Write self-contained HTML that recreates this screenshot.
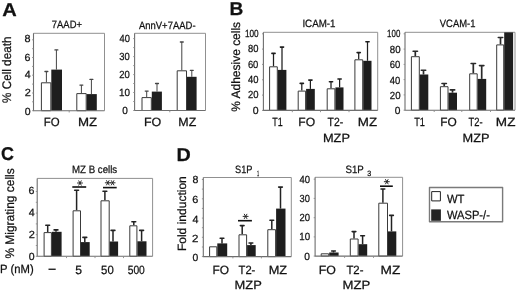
<!DOCTYPE html>
<html><head><meta charset="utf-8"><style>
html,body{margin:0;padding:0;background:#fff;width:520px;height:292px;overflow:hidden}
svg{display:block;will-change:transform}
</style></head><body>
<svg width="520" height="292" viewBox="0 0 520 292" font-family='"Liberation Sans", sans-serif' fill="#111" stroke-linejoin="round" text-rendering="geometricPrecision">
<path d="M33.5 33.3H104.5V110.7" fill="none" stroke="#909090" stroke-width="1"/>
<path d="M134.6 33.3H205.5V110.5" fill="none" stroke="#909090" stroke-width="1"/>
<path d="M263.4 32.3H377.7V110.4" fill="none" stroke="#909090" stroke-width="1"/>
<path d="M405.0 32.3H515.0V110.2" fill="none" stroke="#909090" stroke-width="1"/>
<path d="M37.2 178.4H152.6V256.3" fill="none" stroke="#909090" stroke-width="1"/>
<path d="M203.3 177.5H291.3V256.6" fill="none" stroke="#909090" stroke-width="1"/>
<path d="M315.1 177.3H402.6V256.1" fill="none" stroke="#909090" stroke-width="1"/>
<path d="M46.40 82.3V71.5" stroke="#444" stroke-width="1.0" fill="none"/>
<rect x="44.30" y="70.85" width="4.20" height="1.3" rx="0.65" fill="#444"/>
<rect x="41.4" y="82.8" width="9.4" height="27.9" fill="#fff" stroke="#3a3a3a" stroke-width="1"/>
<path d="M56.40 69.6V49.9" stroke="#444" stroke-width="1.0" fill="none"/>
<rect x="54.30" y="49.25" width="4.20" height="1.3" rx="0.65" fill="#444"/>
<rect x="51.3" y="69.6" width="10.7" height="41.1" fill="#1e1e1e"/>
<path d="M81.40 93.1V85.1" stroke="#444" stroke-width="1.0" fill="none"/>
<rect x="79.30" y="84.45" width="4.20" height="1.3" rx="0.65" fill="#444"/>
<rect x="76.8" y="93.6" width="9.4" height="17.1" fill="#fff" stroke="#3a3a3a" stroke-width="1"/>
<path d="M91.40 94.1V79.4" stroke="#444" stroke-width="1.0" fill="none"/>
<rect x="89.30" y="78.75" width="4.20" height="1.3" rx="0.65" fill="#444"/>
<rect x="86.7" y="94.1" width="10.1" height="16.6" fill="#1e1e1e"/>
<path d="M146.70 97.1V91.1" stroke="#444" stroke-width="1.0" fill="none"/>
<rect x="144.60" y="90.45" width="4.20" height="1.3" rx="0.65" fill="#444"/>
<rect x="142.0" y="97.6" width="9.3" height="12.9" fill="#fff" stroke="#3a3a3a" stroke-width="1"/>
<path d="M157.00 91.6V83.5" stroke="#444" stroke-width="1.0" fill="none"/>
<rect x="154.90" y="82.85" width="4.20" height="1.3" rx="0.65" fill="#444"/>
<rect x="151.8" y="91.6" width="10.1" height="18.9" fill="#1e1e1e"/>
<path d="M181.80 70.3V42.0" stroke="#444" stroke-width="1.0" fill="none"/>
<rect x="179.70" y="41.35" width="4.20" height="1.3" rx="0.65" fill="#444"/>
<rect x="177.2" y="70.8" width="9.3" height="39.7" fill="#fff" stroke="#3a3a3a" stroke-width="1"/>
<path d="M191.80 76.8V70.3" stroke="#444" stroke-width="1.0" fill="none"/>
<rect x="189.70" y="69.65" width="4.20" height="1.3" rx="0.65" fill="#444"/>
<rect x="187.0" y="76.8" width="9.6" height="33.7" fill="#1e1e1e"/>
<path d="M273.50 66.3V53.4" stroke="#1e1e1e" stroke-width="1.25" fill="none"/>
<rect x="271.10" y="52.60" width="4.80" height="1.6" rx="0.80" fill="#1e1e1e"/>
<rect x="269.6" y="66.8" width="7.7" height="43.6" fill="#fff" stroke="#3a3a3a" stroke-width="1"/>
<path d="M282.00 69.9V47.1" stroke="#1e1e1e" stroke-width="1.25" fill="none"/>
<rect x="279.60" y="46.30" width="4.80" height="1.6" rx="0.80" fill="#1e1e1e"/>
<rect x="277.8" y="69.9" width="8.6" height="40.5" fill="#1e1e1e"/>
<path d="M301.80 90.6V83.4" stroke="#1e1e1e" stroke-width="1.25" fill="none"/>
<rect x="299.40" y="82.60" width="4.80" height="1.6" rx="0.80" fill="#1e1e1e"/>
<rect x="298.2" y="91.1" width="7.4" height="19.3" fill="#fff" stroke="#3a3a3a" stroke-width="1"/>
<path d="M310.40 88.9V80.1" stroke="#1e1e1e" stroke-width="1.25" fill="none"/>
<rect x="308.00" y="79.30" width="4.80" height="1.6" rx="0.80" fill="#1e1e1e"/>
<rect x="306.1" y="88.9" width="8.7" height="21.5" fill="#1e1e1e"/>
<path d="M331.00 88.3V81.8" stroke="#1e1e1e" stroke-width="1.25" fill="none"/>
<rect x="328.60" y="81.00" width="4.80" height="1.6" rx="0.80" fill="#1e1e1e"/>
<rect x="327.2" y="88.8" width="7.7" height="21.6" fill="#fff" stroke="#3a3a3a" stroke-width="1"/>
<path d="M339.60 87.4V79.0" stroke="#1e1e1e" stroke-width="1.25" fill="none"/>
<rect x="337.20" y="78.20" width="4.80" height="1.6" rx="0.80" fill="#1e1e1e"/>
<rect x="335.4" y="87.4" width="8.1" height="23.0" fill="#1e1e1e"/>
<path d="M358.70 59.3V52.6" stroke="#1e1e1e" stroke-width="1.25" fill="none"/>
<rect x="356.30" y="51.80" width="4.80" height="1.6" rx="0.80" fill="#1e1e1e"/>
<rect x="354.9" y="59.8" width="7.8" height="50.6" fill="#fff" stroke="#3a3a3a" stroke-width="1"/>
<path d="M367.50 60.8V41.7" stroke="#1e1e1e" stroke-width="1.25" fill="none"/>
<rect x="365.10" y="40.90" width="4.80" height="1.6" rx="0.80" fill="#1e1e1e"/>
<rect x="363.2" y="60.8" width="8.3" height="49.6" fill="#1e1e1e"/>
<path d="M415.30 56.2V51.2" stroke="#2a2a2a" stroke-width="1.7" fill="none"/>
<rect x="412.30" y="50.40" width="6.00" height="1.6" rx="0.80" fill="#2a2a2a"/>
<rect x="411.4" y="56.7" width="7.9" height="53.5" fill="#fff" stroke="#3a3a3a" stroke-width="1"/>
<path d="M423.50 74.5V70.3" stroke="#2a2a2a" stroke-width="1.7" fill="none"/>
<rect x="420.50" y="69.50" width="6.00" height="1.6" rx="0.80" fill="#2a2a2a"/>
<rect x="419.8" y="74.5" width="8.5" height="35.7" fill="#1e1e1e"/>
<path d="M444.20 86.2V83.5" stroke="#2a2a2a" stroke-width="1.7" fill="none"/>
<rect x="441.20" y="82.70" width="6.00" height="1.6" rx="0.80" fill="#2a2a2a"/>
<rect x="440.4" y="86.7" width="7.6" height="23.5" fill="#fff" stroke="#3a3a3a" stroke-width="1"/>
<path d="M452.50 92.7V89.9" stroke="#2a2a2a" stroke-width="1.7" fill="none"/>
<rect x="449.50" y="89.10" width="6.00" height="1.6" rx="0.80" fill="#2a2a2a"/>
<rect x="448.5" y="92.7" width="8.5" height="17.5" fill="#1e1e1e"/>
<path d="M473.30 73.3V63.5" stroke="#2a2a2a" stroke-width="1.7" fill="none"/>
<rect x="470.30" y="62.70" width="6.00" height="1.6" rx="0.80" fill="#2a2a2a"/>
<rect x="469.7" y="73.8" width="7.5" height="36.4" fill="#fff" stroke="#3a3a3a" stroke-width="1"/>
<path d="M481.70 78.9V65.6" stroke="#2a2a2a" stroke-width="1.7" fill="none"/>
<rect x="478.70" y="64.80" width="6.00" height="1.6" rx="0.80" fill="#2a2a2a"/>
<rect x="477.7" y="78.9" width="8.5" height="31.3" fill="#1e1e1e"/>
<path d="M500.50 44.4V37.5" stroke="#2a2a2a" stroke-width="1.7" fill="none"/>
<rect x="497.50" y="36.70" width="6.00" height="1.6" rx="0.80" fill="#2a2a2a"/>
<rect x="496.7" y="44.9" width="7.0" height="65.3" fill="#fff" stroke="#3a3a3a" stroke-width="1"/>
<rect x="504.2" y="32.4" width="8.9" height="77.8" fill="#1e1e1e"/>
<path d="M47.70 232.1V225.3" stroke="#222" stroke-width="1.5" fill="none"/>
<rect x="45.00" y="224.50" width="5.40" height="1.6" rx="0.80" fill="#222"/>
<rect x="44.1" y="232.6" width="7.3" height="23.7" fill="#fff" stroke="#3a3a3a" stroke-width="1"/>
<path d="M56.00 231.8V229.9" stroke="#222" stroke-width="1.5" fill="none"/>
<rect x="53.30" y="229.10" width="5.40" height="1.6" rx="0.80" fill="#222"/>
<rect x="51.9" y="231.8" width="9.7" height="24.5" fill="#1e1e1e"/>
<path d="M76.60 210.3V190.3" stroke="#222" stroke-width="1.5" fill="none"/>
<rect x="73.90" y="189.50" width="5.40" height="1.6" rx="0.80" fill="#222"/>
<rect x="73.1" y="210.8" width="7.4" height="45.5" fill="#fff" stroke="#3a3a3a" stroke-width="1"/>
<path d="M84.80 242.1V237.4" stroke="#222" stroke-width="1.5" fill="none"/>
<rect x="82.10" y="236.60" width="5.40" height="1.6" rx="0.80" fill="#222"/>
<rect x="81.0" y="242.1" width="8.7" height="14.2" fill="#1e1e1e"/>
<path d="M104.90 200.3V191.2" stroke="#222" stroke-width="1.5" fill="none"/>
<rect x="102.20" y="190.40" width="5.40" height="1.6" rx="0.80" fill="#222"/>
<rect x="101.0" y="200.8" width="8.2" height="55.5" fill="#fff" stroke="#3a3a3a" stroke-width="1"/>
<path d="M113.00 241.5V230.4" stroke="#222" stroke-width="1.5" fill="none"/>
<rect x="110.30" y="229.60" width="5.40" height="1.6" rx="0.80" fill="#222"/>
<rect x="109.7" y="241.5" width="8.4" height="14.8" fill="#1e1e1e"/>
<path d="M133.80 225.3V221.8" stroke="#222" stroke-width="1.5" fill="none"/>
<rect x="131.10" y="221.00" width="5.40" height="1.6" rx="0.80" fill="#222"/>
<rect x="129.8" y="225.8" width="7.1" height="30.5" fill="#fff" stroke="#3a3a3a" stroke-width="1"/>
<path d="M141.60 241.3V230.4" stroke="#222" stroke-width="1.5" fill="none"/>
<rect x="138.90" y="229.60" width="5.40" height="1.6" rx="0.80" fill="#222"/>
<rect x="137.4" y="241.3" width="9.1" height="15.0" fill="#1e1e1e"/>
<rect x="209.6" y="246.8" width="7.2" height="9.8" fill="#fff" stroke="#3a3a3a" stroke-width="1"/>
<path d="M222.00 243.4V238.3" stroke="#222" stroke-width="1.5" fill="none"/>
<rect x="219.35" y="237.50" width="5.30" height="1.6" rx="0.80" fill="#222"/>
<rect x="217.3" y="243.4" width="9.9" height="13.2" fill="#1e1e1e"/>
<path d="M242.20 234.3V225.6" stroke="#222" stroke-width="1.5" fill="none"/>
<rect x="239.55" y="224.80" width="5.30" height="1.6" rx="0.80" fill="#222"/>
<rect x="239.0" y="234.8" width="7.6" height="21.8" fill="#fff" stroke="#3a3a3a" stroke-width="1"/>
<path d="M250.90 245.1V243.0" stroke="#222" stroke-width="1.5" fill="none"/>
<rect x="248.25" y="242.20" width="5.30" height="1.6" rx="0.80" fill="#222"/>
<rect x="247.1" y="245.1" width="8.6" height="11.5" fill="#1e1e1e"/>
<path d="M271.80 229.2V220.3" stroke="#222" stroke-width="1.5" fill="none"/>
<rect x="269.15" y="219.50" width="5.30" height="1.6" rx="0.80" fill="#222"/>
<rect x="267.8" y="229.7" width="7.8" height="26.9" fill="#fff" stroke="#3a3a3a" stroke-width="1"/>
<path d="M280.50 208.6V187.1" stroke="#222" stroke-width="1.5" fill="none"/>
<rect x="277.85" y="186.30" width="5.30" height="1.6" rx="0.80" fill="#222"/>
<rect x="276.1" y="208.6" width="9.4" height="48.0" fill="#1e1e1e"/>
<rect x="321.2" y="253.8" width="7.5" height="2.3" fill="#fff" stroke="#3a3a3a" stroke-width="1"/>
<path d="M333.50 252.5V251.0" stroke="#222" stroke-width="1.5" fill="none"/>
<rect x="330.85" y="250.20" width="5.30" height="1.6" rx="0.80" fill="#222"/>
<rect x="329.2" y="252.5" width="9.4" height="3.6" fill="#1e1e1e"/>
<path d="M354.00 238.5V231.6" stroke="#222" stroke-width="1.5" fill="none"/>
<rect x="351.35" y="230.80" width="5.30" height="1.6" rx="0.80" fill="#222"/>
<rect x="350.3" y="239.0" width="7.8" height="17.1" fill="#fff" stroke="#3a3a3a" stroke-width="1"/>
<path d="M362.60 244.2V235.8" stroke="#222" stroke-width="1.5" fill="none"/>
<rect x="359.95" y="235.00" width="5.30" height="1.6" rx="0.80" fill="#222"/>
<rect x="358.6" y="244.2" width="8.6" height="11.9" fill="#1e1e1e"/>
<path d="M382.90 202.7V189.0" stroke="#222" stroke-width="1.5" fill="none"/>
<rect x="380.25" y="188.20" width="5.30" height="1.6" rx="0.80" fill="#222"/>
<rect x="378.8" y="203.2" width="8.7" height="52.9" fill="#fff" stroke="#3a3a3a" stroke-width="1"/>
<path d="M391.50 231.4V215.4" stroke="#222" stroke-width="1.5" fill="none"/>
<rect x="388.85" y="214.60" width="5.30" height="1.6" rx="0.80" fill="#222"/>
<rect x="388.0" y="231.4" width="8.3" height="24.7" fill="#1e1e1e"/>
<path d="M33.5 33.3V110.7H104.5" fill="none" stroke="#6e6e6e" stroke-width="1.1"/>
<path d="M69.2 110.7v1.8" stroke="#8a8a8a" stroke-width="0.9"/>
<path d="M134.6 33.3V110.5H205.5" fill="none" stroke="#6e6e6e" stroke-width="1.1"/>
<path d="M169.8 110.5v1.8" stroke="#8a8a8a" stroke-width="0.9"/>
<path d="M263.4 32.3V110.4H377.7" fill="none" stroke="#6e6e6e" stroke-width="1.1"/>
<path d="M292.3 110.4v1.8" stroke="#8a8a8a" stroke-width="0.9"/>
<path d="M320.5 110.4v1.8" stroke="#8a8a8a" stroke-width="0.9"/>
<path d="M349.0 110.4v1.8" stroke="#8a8a8a" stroke-width="0.9"/>
<path d="M405.0 32.3V110.2H515.0" fill="none" stroke="#6e6e6e" stroke-width="1.1"/>
<path d="M434.2 110.2v1.8" stroke="#8a8a8a" stroke-width="0.9"/>
<path d="M461.8 110.2v1.8" stroke="#8a8a8a" stroke-width="0.9"/>
<path d="M490.5 110.2v1.8" stroke="#8a8a8a" stroke-width="0.9"/>
<path d="M37.2 178.4V256.3H152.6" fill="none" stroke="#6e6e6e" stroke-width="1.1"/>
<path d="M66.5 256.3v1.8" stroke="#8a8a8a" stroke-width="0.9"/>
<path d="M95.0 256.3v1.8" stroke="#8a8a8a" stroke-width="0.9"/>
<path d="M123.5 256.3v1.8" stroke="#8a8a8a" stroke-width="0.9"/>
<path d="M203.3 177.5V256.6H291.3" fill="none" stroke="#6e6e6e" stroke-width="1.1"/>
<path d="M232.9 256.6v1.8" stroke="#8a8a8a" stroke-width="0.9"/>
<path d="M261.4 256.6v1.8" stroke="#8a8a8a" stroke-width="0.9"/>
<path d="M315.1 177.3V256.1H402.6" fill="none" stroke="#6e6e6e" stroke-width="1.1"/>
<path d="M344.6 256.1v1.8" stroke="#8a8a8a" stroke-width="0.9"/>
<path d="M373.5 256.1v1.8" stroke="#8a8a8a" stroke-width="0.9"/>
<path d="M32.1 39.8H33.5" stroke="#8a8a8a" stroke-width="0.9"/>
<path d="M32.1 48.7H33.5" stroke="#8a8a8a" stroke-width="0.9"/>
<path d="M32.1 57.5H33.5" stroke="#8a8a8a" stroke-width="0.9"/>
<path d="M32.1 66.4H33.5" stroke="#8a8a8a" stroke-width="0.9"/>
<path d="M32.1 75.2H33.5" stroke="#8a8a8a" stroke-width="0.9"/>
<path d="M32.1 84.1H33.5" stroke="#8a8a8a" stroke-width="0.9"/>
<path d="M32.1 93.0H33.5" stroke="#8a8a8a" stroke-width="0.9"/>
<path d="M32.1 101.8H33.5" stroke="#8a8a8a" stroke-width="0.9"/>
<path d="M32.1 110.7H33.5" stroke="#8a8a8a" stroke-width="0.9"/>
<path d="M133.2 38.6H134.6" stroke="#8a8a8a" stroke-width="0.9"/>
<path d="M133.2 47.6H134.6" stroke="#8a8a8a" stroke-width="0.9"/>
<path d="M133.2 56.6H134.6" stroke="#8a8a8a" stroke-width="0.9"/>
<path d="M133.2 65.6H134.6" stroke="#8a8a8a" stroke-width="0.9"/>
<path d="M133.2 74.6H134.6" stroke="#8a8a8a" stroke-width="0.9"/>
<path d="M133.2 83.5H134.6" stroke="#8a8a8a" stroke-width="0.9"/>
<path d="M133.2 92.5H134.6" stroke="#8a8a8a" stroke-width="0.9"/>
<path d="M133.2 101.5H134.6" stroke="#8a8a8a" stroke-width="0.9"/>
<path d="M133.2 110.5H134.6" stroke="#8a8a8a" stroke-width="0.9"/>
<path d="M262.0 33.8H263.4" stroke="#8a8a8a" stroke-width="0.9"/>
<path d="M262.0 49.1H263.4" stroke="#8a8a8a" stroke-width="0.9"/>
<path d="M262.0 64.4H263.4" stroke="#8a8a8a" stroke-width="0.9"/>
<path d="M262.0 79.8H263.4" stroke="#8a8a8a" stroke-width="0.9"/>
<path d="M262.0 95.1H263.4" stroke="#8a8a8a" stroke-width="0.9"/>
<path d="M262.0 110.4H263.4" stroke="#8a8a8a" stroke-width="0.9"/>
<path d="M403.6 33.8H405.0" stroke="#8a8a8a" stroke-width="0.9"/>
<path d="M403.6 49.1H405.0" stroke="#8a8a8a" stroke-width="0.9"/>
<path d="M403.6 64.4H405.0" stroke="#8a8a8a" stroke-width="0.9"/>
<path d="M403.6 79.6H405.0" stroke="#8a8a8a" stroke-width="0.9"/>
<path d="M403.6 94.9H405.0" stroke="#8a8a8a" stroke-width="0.9"/>
<path d="M403.6 110.2H405.0" stroke="#8a8a8a" stroke-width="0.9"/>
<path d="M35.8 191.5H37.2" stroke="#8a8a8a" stroke-width="0.9"/>
<path d="M35.8 202.3H37.2" stroke="#8a8a8a" stroke-width="0.9"/>
<path d="M35.8 213.1H37.2" stroke="#8a8a8a" stroke-width="0.9"/>
<path d="M35.8 223.9H37.2" stroke="#8a8a8a" stroke-width="0.9"/>
<path d="M35.8 234.7H37.2" stroke="#8a8a8a" stroke-width="0.9"/>
<path d="M35.8 245.5H37.2" stroke="#8a8a8a" stroke-width="0.9"/>
<path d="M35.8 256.3H37.2" stroke="#8a8a8a" stroke-width="0.9"/>
<path d="M201.9 179.5H203.3" stroke="#8a8a8a" stroke-width="0.9"/>
<path d="M201.9 189.1H203.3" stroke="#8a8a8a" stroke-width="0.9"/>
<path d="M201.9 198.8H203.3" stroke="#8a8a8a" stroke-width="0.9"/>
<path d="M201.9 208.4H203.3" stroke="#8a8a8a" stroke-width="0.9"/>
<path d="M201.9 218.1H203.3" stroke="#8a8a8a" stroke-width="0.9"/>
<path d="M201.9 227.7H203.3" stroke="#8a8a8a" stroke-width="0.9"/>
<path d="M201.9 237.3H203.3" stroke="#8a8a8a" stroke-width="0.9"/>
<path d="M201.9 247.0H203.3" stroke="#8a8a8a" stroke-width="0.9"/>
<path d="M201.9 256.6H203.3" stroke="#8a8a8a" stroke-width="0.9"/>
<path d="M313.7 179.2H315.1" stroke="#8a8a8a" stroke-width="0.9"/>
<path d="M313.7 198.4H315.1" stroke="#8a8a8a" stroke-width="0.9"/>
<path d="M313.7 217.7H315.1" stroke="#8a8a8a" stroke-width="0.9"/>
<path d="M313.7 236.9H315.1" stroke="#8a8a8a" stroke-width="0.9"/>
<path d="M313.7 256.1H315.1" stroke="#8a8a8a" stroke-width="0.9"/>
<rect x="72.3" y="186.2" width="13.9" height="1.6" fill="#111"/>
<path d="M77.10 183.00L82.90 183.00M78.55 180.49L81.45 185.51M81.45 180.49L78.55 185.51" stroke="#222" stroke-width="0.95" fill="none"/>
<rect x="103.0" y="186.8" width="13.7" height="1.6" fill="#111"/>
<path d="M104.90 182.80L110.70 182.80M106.35 180.29L109.25 185.31M109.25 180.29L106.35 185.31" stroke="#222" stroke-width="0.95" fill="none"/>
<path d="M109.70 182.80L115.50 182.80M111.15 180.29L114.05 185.31M114.05 180.29L111.15 185.31" stroke="#222" stroke-width="0.95" fill="none"/>
<rect x="238.0" y="219.9" width="13.9" height="1.6" fill="#111"/>
<path d="M242.70 216.40L248.50 216.40M244.15 213.89L247.05 218.91M247.05 213.89L244.15 218.91" stroke="#222" stroke-width="0.95" fill="none"/>
<rect x="380.0" y="185.4" width="12.8" height="1.6" fill="#111"/>
<path d="M383.90 181.70L389.70 181.70M385.35 179.19L388.25 184.21M388.25 179.19L385.35 184.21" stroke="#222" stroke-width="0.95" fill="none"/>
<rect x="48.5" y="268.6" width="7.2" height="1.3" fill="#111"/>
<rect x="429.5" y="187.5" width="73.1" height="34.3" fill="#fff" stroke="#7a7a7a" stroke-width="1.4"/>
<rect x="431.7" y="191.6" width="8.7" height="9.3" fill="#fff" stroke="#222" stroke-width="1"/>
<rect x="431.2" y="209.4" width="9.7" height="11.4" fill="#222"/>
<g stroke="#111" stroke-width="0.25">
<text x="2.25" y="16.00" font-size="18.60" font-weight="bold" textLength="14.52" lengthAdjust="spacingAndGlyphs">A</text>
<text x="229.46" y="15.00" font-size="18.60" font-weight="bold" textLength="13.84" lengthAdjust="spacingAndGlyphs">B</text>
<text x="0.94" y="160.00" font-size="18.60" font-weight="bold" textLength="13.00" lengthAdjust="spacingAndGlyphs">C</text>
<text x="176.62" y="161.00" font-size="18.60" font-weight="bold" textLength="14.28" lengthAdjust="spacingAndGlyphs">D</text>
<text x="51.83" y="28.00" font-size="10.60" textLength="30.18" lengthAdjust="spacingAndGlyphs">7AAD+</text>
<text x="138.94" y="29.00" font-size="10.60" textLength="56.60" lengthAdjust="spacingAndGlyphs">AnnV+7AAD-</text>
<text x="302.40" y="27.00" font-size="10.60" textLength="33.11" lengthAdjust="spacingAndGlyphs">ICAM-1</text>
<text x="439.84" y="27.00" font-size="10.60" textLength="35.58" lengthAdjust="spacingAndGlyphs">VCAM-1</text>
<text x="72.04" y="173.00" font-size="10.60" textLength="45.19" lengthAdjust="spacingAndGlyphs">MZ B cells</text>
<text x="235.08" y="173.00" font-size="10.60" textLength="17.39" lengthAdjust="spacingAndGlyphs">S1P</text>
<text x="257.07" y="176.00" font-size="7.60" textLength="2.16" lengthAdjust="spacingAndGlyphs">1</text>
<text x="345.47" y="173.00" font-size="10.60" textLength="18.28" lengthAdjust="spacingAndGlyphs">S1P</text>
<text x="367.35" y="176.00" font-size="7.60" textLength="3.96" lengthAdjust="spacingAndGlyphs">3</text>
<text x="43.66" y="126.00" font-size="12.00" textLength="15.86" lengthAdjust="spacingAndGlyphs">FO</text>
<text x="77.92" y="126.00" font-size="12.00" textLength="19.16" lengthAdjust="spacingAndGlyphs">MZ</text>
<text x="143.97" y="126.00" font-size="12.00" textLength="17.33" lengthAdjust="spacingAndGlyphs">FO</text>
<text x="178.34" y="126.00" font-size="12.00" textLength="17.93" lengthAdjust="spacingAndGlyphs">MZ</text>
<text x="272.21" y="126.00" font-size="12.00" textLength="10.50" lengthAdjust="spacingAndGlyphs">T1</text>
<text x="298.39" y="126.00" font-size="12.00" textLength="16.83" lengthAdjust="spacingAndGlyphs">FO</text>
<text x="327.61" y="126.00" font-size="12.00" textLength="15.57" lengthAdjust="spacingAndGlyphs">T2-</text>
<text x="357.80" y="126.00" font-size="12.00" textLength="19.31" lengthAdjust="spacingAndGlyphs">MZ</text>
<text x="322.97" y="142.00" font-size="12.00" textLength="27.00" lengthAdjust="spacingAndGlyphs">MZP</text>
<text x="414.13" y="126.00" font-size="12.00" textLength="10.80" lengthAdjust="spacingAndGlyphs">T1</text>
<text x="440.17" y="126.00" font-size="12.00" textLength="16.50" lengthAdjust="spacingAndGlyphs">FO</text>
<text x="468.42" y="126.00" font-size="12.00" textLength="14.10" lengthAdjust="spacingAndGlyphs">T2-</text>
<text x="495.89" y="126.00" font-size="12.00" textLength="19.53" lengthAdjust="spacingAndGlyphs">MZ</text>
<text x="462.57" y="142.00" font-size="12.00" textLength="26.94" lengthAdjust="spacingAndGlyphs">MZP</text>
<text x="0.08" y="273.00" font-size="12.00" textLength="33.58" lengthAdjust="spacingAndGlyphs">P (nM)</text>
<text x="75.18" y="274.00" font-size="12.00" textLength="6.75" lengthAdjust="spacingAndGlyphs">5</text>
<text x="101.07" y="274.00" font-size="12.00" textLength="12.64" lengthAdjust="spacingAndGlyphs">50</text>
<text x="127.70" y="274.00" font-size="12.00" textLength="17.13" lengthAdjust="spacingAndGlyphs">500</text>
<text x="212.48" y="274.00" font-size="12.00" textLength="16.54" lengthAdjust="spacingAndGlyphs">FO</text>
<text x="238.55" y="274.00" font-size="12.00" textLength="16.78" lengthAdjust="spacingAndGlyphs">T2-</text>
<text x="268.69" y="274.00" font-size="12.00" textLength="18.47" lengthAdjust="spacingAndGlyphs">MZ</text>
<text x="234.54" y="289.00" font-size="12.00" textLength="27.22" lengthAdjust="spacingAndGlyphs">MZP</text>
<text x="318.66" y="274.00" font-size="12.00" textLength="17.13" lengthAdjust="spacingAndGlyphs">FO</text>
<text x="346.41" y="274.00" font-size="12.00" textLength="17.08" lengthAdjust="spacingAndGlyphs">T2-</text>
<text x="380.62" y="274.00" font-size="12.00" textLength="19.74" lengthAdjust="spacingAndGlyphs">MZ</text>
<text x="342.62" y="289.00" font-size="12.00" textLength="27.75" lengthAdjust="spacingAndGlyphs">MZP</text>
<text x="446.97" y="203.00" font-size="12.00" textLength="17.53" lengthAdjust="spacingAndGlyphs">WT</text>
<text x="446.94" y="219.00" font-size="12.00" textLength="42.90" lengthAdjust="spacingAndGlyphs">WASP-/-</text>
<text x="24.61" y="42.00" font-size="10.40" textLength="6.00" lengthAdjust="spacingAndGlyphs">8</text>
<text x="24.57" y="61.00" font-size="10.40" textLength="5.90" lengthAdjust="spacingAndGlyphs">6</text>
<text x="24.77" y="78.00" font-size="10.40" textLength="5.92" lengthAdjust="spacingAndGlyphs">4</text>
<text x="24.72" y="96.00" font-size="10.40" textLength="6.12" lengthAdjust="spacingAndGlyphs">2</text>
<text x="24.87" y="115.00" font-size="10.40" textLength="5.84" lengthAdjust="spacingAndGlyphs">0</text>
<text x="119.48" y="42.00" font-size="10.40" textLength="10.40" lengthAdjust="spacingAndGlyphs">40</text>
<text x="119.27" y="60.00" font-size="10.40" textLength="10.49" lengthAdjust="spacingAndGlyphs">30</text>
<text x="119.28" y="78.00" font-size="10.40" textLength="10.56" lengthAdjust="spacingAndGlyphs">20</text>
<text x="118.94" y="96.00" font-size="10.40" textLength="11.02" lengthAdjust="spacingAndGlyphs">10</text>
<text x="122.15" y="114.00" font-size="10.40" textLength="5.58" lengthAdjust="spacingAndGlyphs">0</text>
<text x="244.93" y="37.00" font-size="10.40" textLength="13.70" lengthAdjust="spacingAndGlyphs">100</text>
<text x="248.01" y="52.00" font-size="10.40" textLength="10.42" lengthAdjust="spacingAndGlyphs">80</text>
<text x="247.89" y="68.00" font-size="10.40" textLength="10.49" lengthAdjust="spacingAndGlyphs">60</text>
<text x="248.07" y="83.00" font-size="10.40" textLength="10.49" lengthAdjust="spacingAndGlyphs">40</text>
<text x="247.95" y="98.00" font-size="10.40" textLength="10.56" lengthAdjust="spacingAndGlyphs">20</text>
<text x="252.87" y="114.00" font-size="10.40" textLength="5.84" lengthAdjust="spacingAndGlyphs">0</text>
<text x="387.11" y="37.00" font-size="10.40" textLength="13.20" lengthAdjust="spacingAndGlyphs">100</text>
<text x="389.85" y="53.00" font-size="10.40" textLength="10.75" lengthAdjust="spacingAndGlyphs">80</text>
<text x="389.77" y="68.00" font-size="10.40" textLength="10.54" lengthAdjust="spacingAndGlyphs">60</text>
<text x="389.82" y="84.00" font-size="10.40" textLength="10.49" lengthAdjust="spacingAndGlyphs">40</text>
<text x="389.80" y="99.00" font-size="10.40" textLength="10.79" lengthAdjust="spacingAndGlyphs">20</text>
<text x="394.65" y="114.00" font-size="10.40" textLength="5.66" lengthAdjust="spacingAndGlyphs">0</text>
<text x="28.57" y="194.00" font-size="10.40" textLength="5.90" lengthAdjust="spacingAndGlyphs">6</text>
<text x="28.77" y="216.00" font-size="10.40" textLength="5.92" lengthAdjust="spacingAndGlyphs">4</text>
<text x="28.72" y="238.00" font-size="10.40" textLength="6.12" lengthAdjust="spacingAndGlyphs">2</text>
<text x="28.87" y="260.00" font-size="10.40" textLength="5.84" lengthAdjust="spacingAndGlyphs">0</text>
<text x="192.55" y="183.00" font-size="10.40" textLength="5.87" lengthAdjust="spacingAndGlyphs">8</text>
<text x="192.36" y="203.00" font-size="10.40" textLength="6.03" lengthAdjust="spacingAndGlyphs">6</text>
<text x="192.49" y="223.00" font-size="10.40" textLength="5.97" lengthAdjust="spacingAndGlyphs">4</text>
<text x="192.12" y="242.00" font-size="10.40" textLength="6.42" lengthAdjust="spacingAndGlyphs">2</text>
<text x="192.48" y="261.00" font-size="10.40" textLength="5.74" lengthAdjust="spacingAndGlyphs">0</text>
<text x="299.43" y="183.00" font-size="10.40" textLength="10.55" lengthAdjust="spacingAndGlyphs">40</text>
<text x="299.55" y="202.00" font-size="10.40" textLength="10.34" lengthAdjust="spacingAndGlyphs">30</text>
<text x="299.46" y="221.00" font-size="10.40" textLength="10.58" lengthAdjust="spacingAndGlyphs">20</text>
<text x="299.24" y="240.00" font-size="10.40" textLength="10.81" lengthAdjust="spacingAndGlyphs">10</text>
<text x="304.23" y="260.00" font-size="10.40" textLength="5.68" lengthAdjust="spacingAndGlyphs">0</text>
<text transform="translate(10.72,103.00) rotate(-90)" x="0" y="0" font-size="12.40" textLength="66.44" lengthAdjust="spacingAndGlyphs">% Cell death</text>
<text transform="translate(240.29,111.84) rotate(-90)" x="0" y="0" font-size="12.20" textLength="89.96" lengthAdjust="spacingAndGlyphs">% Adhesive cells</text>
<text transform="translate(14.49,258.60) rotate(-90)" x="0" y="0" font-size="12.40" textLength="90.27" lengthAdjust="spacingAndGlyphs">% Migrating cells</text>
<text transform="translate(185.52,251.08) rotate(-90)" x="0" y="0" font-size="12.00" textLength="74.87" lengthAdjust="spacingAndGlyphs">Fold induction</text>
</g>
</svg>
</body></html>
